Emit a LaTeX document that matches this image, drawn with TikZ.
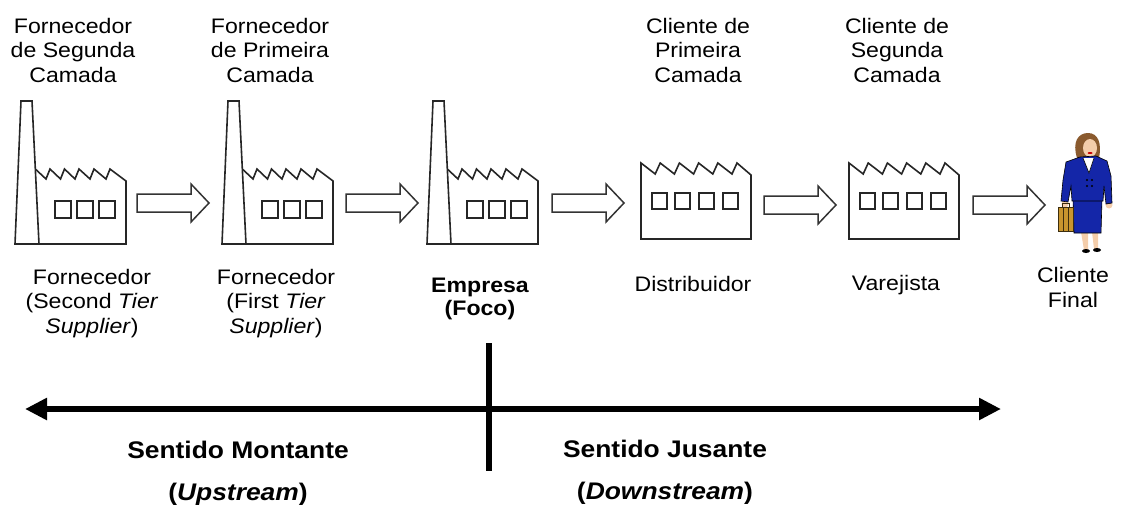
\documentclass[tikz,border=0pt]{standalone}
\usepackage{fontspec}
\setmainfont{Liberation Sans}[FakeStretch=1.1]
\usetikzlibrary{arrows.meta}
\definecolor{suit}{HTML}{1426A8}
\definecolor{hair}{HTML}{8A5A2E}
\definecolor{skin}{HTML}{F4CDAA}
\definecolor{case}{HTML}{C8952E}
\begin{document}
\begin{tikzpicture}[x=1pt,y=-1pt,
  lbl/.style={align=center, font=\fontsize{21}{24.5}\selectfont, inner sep=0pt, anchor=base},
  lblb/.style={lbl, font=\fontsize{21}{23}\selectfont\bfseries},
  bigl/.style={align=center, font=\fontsize{24}{42}\selectfont\bfseries, inner sep=0pt, anchor=base},
  outline/.style={draw=black!85, line width=1.6pt, line join=miter, fill=white},
  win/.style={draw=black!85, line width=2pt},
  blockarrow/.style={draw=black!80, line width=1.5pt, fill=white, line join=miter},
  flow/.style={line width=6pt, {Triangle[length=22pt,width=21pt]}-{Triangle[length=22pt,width=21pt]}},
  divider/.style={line width=6pt},
  factory/.pic={
    % saw-tooth hall behind the chimney
    \draw[outline] (24,0) -- (111,0) -- (111,-63) -- (95,-75) -- (91,-65) -- (79,-75)
      -- (75,-65) -- (64,-75) -- (60,-65) -- (49.5,-75) -- (45.5,-65) -- (35,-75)
      -- (31,-65) -- (20.3,-75);
    % chimney
    \draw[outline] (0,0) -- (6,-143) -- (17,-143) -- (24,0) -- cycle;
    \foreach \wx in {40,62,84} \draw[win] (\wx,-43) rectangle ++(15.5,17);
  },
  hall/.pic={
    \draw[outline] (0,0) -- (0,-76) -- (14.2,-65) -- (19.2,-76) -- (33.4,-65) -- (38.4,-76)
      -- (52.6,-65) -- (57.6,-76) -- (71.8,-65) -- (76.8,-76) -- (91,-65) -- (96,-76)
      -- (110,-64) -- (110,0) -- cycle;
    \foreach \wx in {11,34,58,82} \draw[win] (\wx,-46) rectangle ++(15,16);
  },
  blockarrow/.pic={
    \draw[blockarrow] (0,-9) -- (54,-9) -- (54,-19) -- (72,0) -- (54,19) -- (54,9) -- (0,9) -- cycle;
  },
]
\useasboundingbox (0,0) rectangle (1129,506);

% chain of sites
\pic (f1) at (15,244) {factory};
\pic (f2) at (222,244) {factory};
\pic (f3) at (427,244) {factory};
\pic (h1) at (641,239) {hall};
\pic (h2) at (849,239) {hall};

% flow arrows between the sites
\pic (a1) at (137,203) {blockarrow};
\pic (a2) at (346,203) {blockarrow};
\pic (a3) at (552,203) {blockarrow};
\pic (a4) at (764,205) {blockarrow};
\pic (a5) at (973,205) {blockarrow};

% final customer
\begin{scope}[line width=0.6pt]
  \fill[hair] (1077,158) .. controls (1072,142) and (1078,133) .. (1088,133)
    .. controls (1098,133) and (1102,143) .. (1099,158) -- cycle;
  \fill[skin] (1090,148) ellipse [x radius=7pt, y radius=9pt];
  \fill[red!80!black] (1090,153) ellipse [x radius=2.5pt, y radius=1pt];
  \fill[skin] (1065,204) circle [radius=3.5pt];
  \fill[skin] (1109,205) circle [radius=3.5pt];
  \fill[skin] (1081,232) -- (1084,250) -- (1088,250) -- (1088,232) -- cycle;
  \fill[skin] (1092,232) -- (1094,249) -- (1098,249) -- (1098,232) -- cycle;
  \fill[black] (1086,251) ellipse [x radius=4pt, y radius=2pt];
  \fill[black] (1097,250) ellipse [x radius=4pt, y radius=2pt];
  \draw[fill=suit] (1073,199) -- (1102,199) -- (1101,233) -- (1074,233) -- cycle;
  \draw[fill=suit] (1080,157) -- (1066,162) -- (1063,180) -- (1061,201) -- (1068,202)
    -- (1071,186) -- (1072,201) -- (1103,201) -- (1104,186) -- (1106,204) -- (1112,203)
    -- (1111,176) -- (1107,161) -- (1096,156) -- cycle;
  \fill[white] (1083,158) -- (1089,173) -- (1094,158) -- cycle;
  \draw (1083,158) -- (1089,173) -- (1094,158);
  \foreach \bx/\by in {1087/180,1092/180,1087/186,1092/186}
    \fill[black] (\bx,\by) circle [radius=1.2pt];
  \draw[fill=case, draw=black!70!case] (1058,207) rectangle (1073,231);
  \draw[black!70!case, line width=1pt] (1062,207) -- (1062,203) -- (1069,203) -- (1069,207);
  \draw[black!70!case] (1063,207) -- (1063,231) (1068,207) -- (1068,231);
\end{scope}

% tier labels above the sites (base = last line)
\node[lbl] (t1) at (73,82) {Fornecedor\\de Segunda\\Camada};
\node[lbl] (t2) at (270,82) {Fornecedor\\de Primeira\\Camada};
\node[lbl] (t3) at (698,82) {Cliente de\\Primeira\\Camada};
\node[lbl] (t4) at (897,82) {Cliente de\\Segunda\\Camada};

% names below the sites
\node[lbl] (n1) at (92,333) {Fornecedor\\(Second \textit{Tier}\\\textit{Supplier})};
\node[lbl] (n2) at (276,333) {Fornecedor\\(First \textit{Tier}\\\textit{Supplier})};
\node[lblb] (n3) at (480,315) {Empresa\\(Foco)};
\node[lbl] (n4) at (693,291) {Distribuidor};
\node[lbl] (n5) at (896,290) {Varejista};
\node[lbl] (n6) at (1073,307) {Cliente\\Final};

% upstream / downstream axis
\coordinate (upL) at (25,409);
\coordinate (dnR) at (1001,409);
\coordinate (divT) at (489,343);
\coordinate (divB) at (489,471);
\draw[flow] (upL) -- (dnR);
\draw[divider] (divT) -- (divB);

\node[bigl] (up) at (238,500) {Sentido Montante\\(\textit{Upstream})};
\node[bigl] (down) at (665,499) {Sentido Jusante\\(\textit{Downstream})};
\end{tikzpicture}
\end{document}
